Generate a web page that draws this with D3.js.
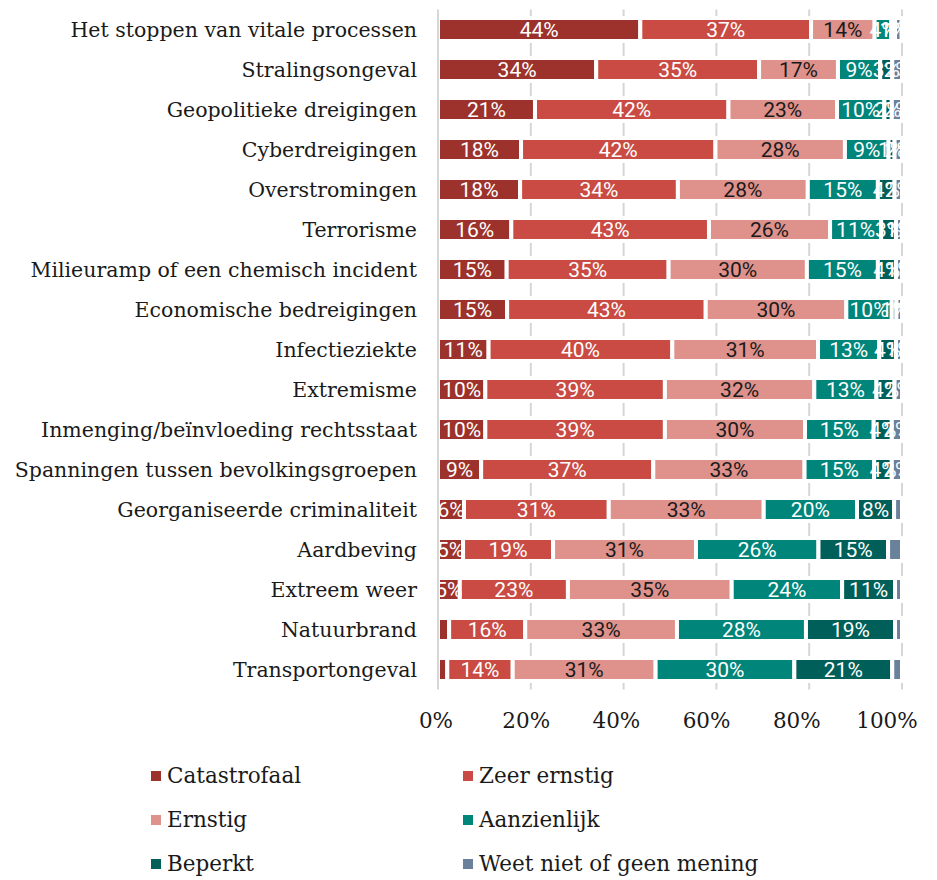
<!DOCTYPE html>
<meta charset='utf-8'>
<style>
  body { margin:0; background:#fff; }
  .cat { font-family:'DejaVu Serif', serif; font-size:20.5px; fill:#1a1a1a; }
  .tick { font-family:'DejaVu Serif', serif; font-size:21.5px; fill:#1a1a1a; }
  .legend text { font-family:'DejaVu Serif', serif; font-size:21.5px; fill:#1a1a1a; }
  .val { font-family:Roboto, sans-serif; font-size:21px; }
</style>
<body>
<script src='https://cdn.jsdelivr.net/npm/d3@7'></script>
<script>
  var categories = ['Het stoppen van vitale processen', 'Stralingsongeval', 'Geopolitieke dreigingen',
    'Cyberdreigingen', 'Overstromingen', 'Terrorisme', 'Milieuramp of een chemisch incident',
    'Economische bedreigingen ', 'Infectieziekte', 'Extremisme', 'Inmenging/beïnvloeding rechtsstaat',
    'Spanningen tussen bevolkingsgroepen', 'Georganiseerde criminaliteit', 'Aardbeving',
    'Extreem weer', 'Natuurbrand', 'Transportongeval'];

  var seriesNames = ['Catastrofaal', 'Zeer ernstig', 'Ernstig', 'Aanzienlijk', 'Beperkt', 'Weet niet of geen mening'];

  var catastrofaal = [43.6, 34.1, 20.9, 17.9, 17.7, 15.8, 14.8, 14.9, 10.9, 10.2, 10.2, 9.3, 5.6, 5.4, 4.7, 2.4, 2.0];
  var zeerErnstig  = [36.8, 35.1, 41.7, 41.9, 34.0, 42.6, 34.9, 42.8, 39.6, 38.7, 38.7, 37.1, 31.2, 19.4, 23.3, 16.4, 14.1];
  var ernstig      = [13.7, 17.0, 23.4, 27.9, 28.0, 26.1, 29.8, 30.3, 31.4, 32.2, 30.2, 32.6, 33.4, 30.8, 35.3, 32.7, 30.8];
  var aanzienlijk  = [3.6, 9.1, 10.2, 9.4, 15.1, 11.0, 15.3, 9.8, 13.2, 13.4, 14.8, 15.0, 20.1, 26.4, 23.8, 27.8, 29.9];
  var beperkt      = [0.8, 2.6, 1.6, 1.3, 3.6, 3.2, 3.9, 1.0, 3.6, 3.9, 3.9, 3.8, 8.0, 15.0, 11.4, 19.2, 21.1];
  var weetNiet     = [1.4, 2.1, 2.2, 1.6, 1.6, 1.3, 1.3, 1.2, 1.3, 1.6, 2.2, 2.2, 1.7, 3.0, 1.5, 1.5, 2.1];

  var ticks = [0, 20, 40, 60, 80, 100];
  // labels left off in the original: [row, series]
  var hiddenLabels = [[15, 0], [16, 0], [12, 5], [13, 5], [14, 5], [15, 5], [16, 5]];

  var colors = ['#9c322b', '#c94b43', '#df918c', '#00857a', '#005f58', '#69819a'];
  var labelColors = ['#fff', '#fff', '#1a1a1a', '#fff', '#fff', '#fff'];

  var width = 937, height = 880;
  var allSeries = [catastrofaal, zeerErnstig, ernstig, aanzienlijk, beperkt, weetNiet];

  var svg = d3.select('body').append('svg')
    .attr('width', width)
    .attr('height', height);

  var x = d3.scaleLinear().domain([0, 100]).range([438, 902]);
  var y = d3.scaleBand().domain(categories).range([9.5, 689.5])
    .paddingInner(0.425).paddingOuter(0.2125);
  // excel spaces the tick labels slightly tighter than the gridlines
  var xLabel = d3.scaleLinear().domain([0, 100]).range([x(0) - 2, x(100) - 15]);

  // gridlines behind the bars
  svg.append('g').selectAll('line')
    .data(ticks.filter(function(t) { return t > 0; }))
    .enter().append('line')
    .attr('x1', function(d) { return x(d); })
    .attr('x2', function(d) { return x(d); })
    .attr('y1', y.range()[0])
    .attr('y2', y.range()[1])
    .attr('stroke', '#d6d6d6')
    .attr('stroke-width', 2);

  // stacked segments
  var rows = categories.map(function(c, i) {
    var start = 0;
    return allSeries.map(function(s, k) {
      var seg = { row: i, series: k, cat: c, x0: start, x1: start + s[i], v: s[i] };
      start += s[i];
      return seg;
    });
  });
  var segments = d3.merge(rows);

  svg.append('g').selectAll('rect')
    .data(segments)
    .enter().append('rect')
    .attr('x', function(d) { return x(d.x0); })
    .attr('y', function(d) { return y(d.cat); })
    .attr('width', function(d) { return x(d.x1) - x(d.x0); })
    .attr('height', y.bandwidth())
    .attr('fill', function(d) { return colors[d.series]; })
    .attr('stroke', '#fff')
    .attr('stroke-width', 4);

  // zero axis line on top
  svg.append('line')
    .attr('x1', x(0)).attr('x2', x(0))
    .attr('y1', y.range()[0]).attr('y2', y.range()[1])
    .attr('stroke', '#d6d6d6')
    .attr('stroke-width', 2);

  svg.append('clipPath').attr('id', 'plot')
    .append('rect')
    .attr('x', x(0) + 1).attr('y', 0)
    .attr('width', x(100) - x(0) + 20).attr('height', y.range()[1]);

  var isHidden = function(d) {
    return hiddenLabels.some(function(h) { return h[0] === d.row && h[1] === d.series; });
  };

  svg.append('g').attr('clip-path', 'url(#plot)').selectAll('text')
    .data(segments.filter(function(d) { return !isHidden(d); }))
    .enter().append('text')
    .attr('class', 'val')
    .attr('x', function(d) { return x((d.x0 + d.x1) / 2); })
    .attr('y', function(d) { return y(d.cat) + y.bandwidth() / 2; })
    .attr('dy', '0.36em')
    .attr('text-anchor', 'middle')
    .attr('fill', function(d) { return labelColors[d.series]; })
    .text(function(d) { return Math.round(d.v) + '%'; });

  // category labels
  svg.append('g').selectAll('text')
    .data(categories)
    .enter().append('text')
    .attr('class', 'cat')
    .attr('x', 417)
    .attr('y', function(d) { return y(d) + y.bandwidth() / 2; })
    .attr('dy', '0.35em')
    .attr('text-anchor', 'end')
    .text(function(d) { return d; });

  // x tick labels
  svg.append('g').selectAll('text')
    .data(ticks)
    .enter().append('text')
    .attr('class', 'tick')
    .attr('x', function(d) { return xLabel(d); })
    .attr('y', 728)
    .attr('text-anchor', 'middle')
    .text(function(d) { return d + '%'; });

  // legend, two columns
  var legend = svg.append('g').attr('class', 'legend');
  var item = legend.selectAll('g')
    .data(seriesNames)
    .enter().append('g')
    .attr('transform', function(d, i) {
      return 'translate(' + (i % 2 === 0 ? 151 : 463) + ',' + (783 + Math.floor(i / 2) * 44) + ')';
    });
  item.append('rect')
    .attr('x', 0).attr('y', -12)
    .attr('width', 10).attr('height', 10)
    .attr('fill', function(d, i) { return colors[i]; });
  item.append('text')
    .attr('x', 16)
    .attr('y', 0)
    .text(function(d) { return d; });
</script>
</body>
